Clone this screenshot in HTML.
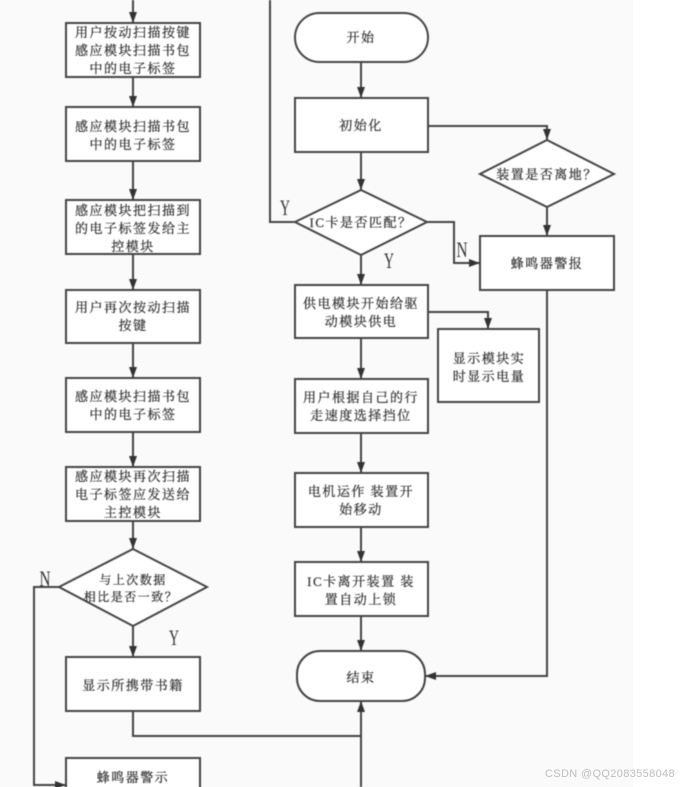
<!DOCTYPE html>
<html><head><meta charset="utf-8"><style>
html,body{margin:0;padding:0;background:#fff;width:694px;height:787px;overflow:hidden}
svg{display:block}
#d{filter:blur(.5px)}
#d text{font-family:"Liberation Serif","Noto Serif CJK SC",serif;font-size:13px;letter-spacing:1.5px;fill:#333;stroke:#333;stroke-width:.25px;text-anchor:middle}
#d text.l{font-size:22px;letter-spacing:0;fill:#333;stroke-width:0}
.s{fill:#fff;stroke:#444;stroke-width:2}
.c{fill:none;stroke:#444;stroke-width:2}
.a{fill:#333}
</style></head><body>
<svg width="694" height="787" viewBox="0 0 694 787" xmlns="http://www.w3.org/2000/svg">
<rect width="694" height="787" fill="#fff"/>
<rect width="633" height="787" fill="#fafafa"/>
<g id="d">
<!-- connectors -->
<path class="c" d="M133 0V23M133 77V107M133 161V200M133 254V290M133 343V378M133 432V467M133 521V549M133 626V657M133 711V736H361M361 787V701M59 587H34V785H66"/>
<path class="c" d="M361 62V98M361 152V190M361 255V285M361 338V379M361 433V473M361 527V562M361 616V651"/>
<path class="c" d="M295 222H270V0M428 126H547V140M547 207V236M547 290V676H425M427 222H454V263H480M428 312H488V329"/>
<!-- arrowheads -->
<path class="a" d="M129 12h8l-4 11zM129 96h8l-4 11zM129 189h8l-4 11zM129 279h8l-4 11zM129 367h8l-4 11zM129 456h8l-4 11zM129 538h8l-4 11zM129 646h8l-4 11z"/>
<path class="a" d="M357 87h8l-4 11zM357 179h8l-4 11zM357 274h8l-4 11zM357 368h8l-4 11zM357 462h8l-4 11zM357 551h8l-4 11zM357 640h8l-4 11zM357 712h8l-4 -11z"/>
<path class="a" d="M543 129h8l-4 11zM543 225h8l-4 11zM484 318h8l-4 11zM469 259v8l11-4zM436 672v8l-11-4zM55 781v8l11-4z"/>
<!-- left column -->
<rect class="s" x="66" y="23" width="134" height="54"/>
<rect class="s" x="66" y="107" width="134" height="54"/>
<rect class="s" x="66" y="200" width="134" height="54"/>
<rect class="s" x="66" y="290" width="134" height="53"/>
<rect class="s" x="66" y="378" width="134" height="54"/>
<rect class="s" x="66" y="467" width="134" height="54"/>
<path class="s" d="M133 549L207 587L133 626L59 587Z"/>
<rect class="s" x="66" y="657" width="134" height="54"/>
<rect class="s" x="66" y="758" width="134" height="54"/>
<!-- center column -->
<rect class="s" x="295" y="13" width="133" height="49" rx="24.5"/>
<rect class="s" x="295" y="98" width="133" height="54"/>
<path class="s" d="M361 190L427 222L361 255L295 222Z"/>
<rect class="s" x="295" y="285" width="133" height="53"/>
<rect class="s" x="295" y="379" width="133" height="54"/>
<rect class="s" x="295" y="473" width="133" height="54"/>
<rect class="s" x="295" y="562" width="133" height="54"/>
<rect class="s" x="297" y="651" width="128" height="50" rx="23"/>
<!-- right column -->
<path class="s" d="M547 140L614 174L547 207L480 174Z"/>
<rect class="s" x="480" y="236" width="134" height="54"/>
<rect class="s" x="438" y="329" width="101" height="73"/>
<!-- text -->
<text x="133" y="37">用户按动扫描按键</text>
<text x="133" y="55">感应模块扫描书包</text>
<text x="133" y="73">中的电子标签</text>
<text x="133" y="131">感应模块扫描书包</text>
<text x="133" y="149">中的电子标签</text>
<text x="133" y="215">感应模块把扫描到</text>
<text x="133" y="233">的电子标签发给主</text>
<text x="133" y="251">控模块</text>
<text x="133" y="312">用户再次按动扫描</text>
<text x="133" y="330">按键</text>
<text x="133" y="401">感应模块扫描书包</text>
<text x="133" y="419">中的电子标签</text>
<text x="133" y="481">感应模块再次扫描</text>
<text x="133" y="499">电子标签应发送给</text>
<text x="133" y="517">主控模块</text>
<text x="133" y="584" style="font-size:12px">与上次数据</text>
<text x="131" y="601" style="font-size:12px">相比是否一致？</text>
<text x="133" y="690">显示所携带书籍</text>
<text x="133" y="782">蜂鸣器警示</text>
<text x="361" y="42">开始</text>
<text x="361" y="130">初始化</text>
<text x="361" y="227">IC卡是否匹配？</text>
<text x="361" y="308">供电模块开始给驱</text>
<text x="361" y="326">动模块供电</text>
<text x="361" y="402">用户根据自己的行</text>
<text x="361" y="420">走速度选择挡位</text>
<text x="361" y="496">电机运作 装置开</text>
<text x="361" y="514">始移动</text>
<text x="361" y="586">IC卡离开装置 装</text>
<text x="361" y="604">置自动上锁</text>
<text x="361" y="682">结束</text>
<text x="547" y="179">装置是否离地？</text>
<text x="547" y="268">蜂鸣器警报</text>
<text x="489" y="363">显示模块实</text>
<text x="489" y="381">时显示电量</text>
<text class="l" x="285" y="215" textLength="10" lengthAdjust="spacingAndGlyphs">Y</text>
<text class="l" x="389" y="268" textLength="10" lengthAdjust="spacingAndGlyphs">Y</text>
<text class="l" x="462" y="257" textLength="11" lengthAdjust="spacingAndGlyphs">N</text>
<text class="l" x="45" y="586" textLength="11" lengthAdjust="spacingAndGlyphs">N</text>
<text class="l" x="174" y="645" textLength="10" lengthAdjust="spacingAndGlyphs">Y</text>
</g>
<text x="545" y="777" style="font-family:'Liberation Sans',sans-serif;font-size:11px;letter-spacing:.35px;fill:#bdbdbd">CSDN @QQ2083558048</text>
</svg>
</body></html>
